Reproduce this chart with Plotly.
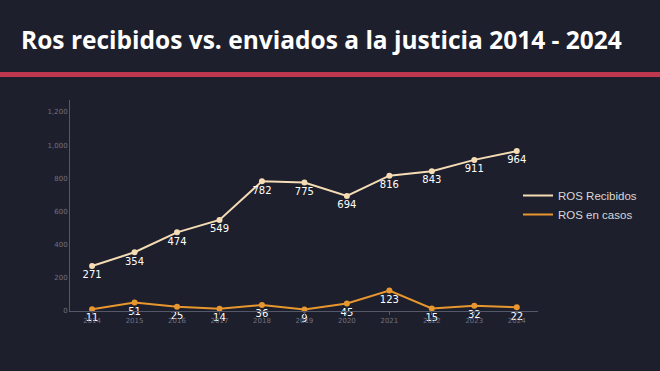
import plotly.graph_objects as go

years = ["2014", "2015", "2016", "2017", "2018", "2019", "2020", "2021", "2022", "2023", "2024"]
ros_recibidos = [271, 354, 474, 549, 782, 775, 694, 816, 843, 911, 964]
ros_casos = [11, 51, 25, 14, 36, 9, 45, 123, 15, 32, 22]
y_ticks = [0, 200, 400, 600, 800, 1000, 1200]
y_tick_labels = ["0", "200", "400", "600", "800", "1,000", "1,200"]

BG = "#1e1f2c"
C1 = "#f5dcb4"
C2 = "#e8962e"

fig = go.Figure()
for name, vals, col in [("ROS Recibidos", ros_recibidos, C1), ("ROS en casos", ros_casos, C2)]:
    fig.add_trace(go.Scatter(
        x=years, y=vals, name=name, mode="lines+markers+text", showlegend=False,
        line=dict(color=col, width=2), marker=dict(size=6, color=col),
        text=[str(v) for v in vals], textposition="bottom center", cliponaxis=False,
        textfont=dict(color="#ffffff", size=10, family="DejaVu Sans"),
    ))
for name, col in [("ROS Recibidos", C1), ("ROS en casos", C2)]:
    fig.add_trace(go.Scatter(x=[None], y=[None], name=name, mode="lines",
                             line=dict(color=col, width=2), showlegend=True))

fig.update_layout(
    width=660, height=371,
    paper_bgcolor=BG, plot_bgcolor=BG,
    margin=dict(l=70, r=122, t=100, b=60, autoexpand=False),
    showlegend=True,
    legend=dict(x=(518 - 70) / 468, y=(311 - 205) / 211,
                xanchor="left", yanchor="middle",
                font=dict(color="#d8d8d8", size=11.5, family="Liberation Sans"),
                bgcolor="rgba(0,0,0,0)"),
    xaxis=dict(type="category", range=[-0.52, 10.5], showgrid=False,
               showline=True, linecolor="#555868", linewidth=1,
               ticks="outside", ticklen=3, tickcolor="#555868",
               tickfont=dict(color="#6f7282", size=7, family="DejaVu Sans"),
               zeroline=False),
    yaxis=dict(range=[0, 1272], showgrid=False, showline=True, linecolor="#555868",
               linewidth=1, tickvals=y_ticks, ticktext=y_tick_labels,
               tickfont=dict(color="#6f7282", size=7, family="DejaVu Sans"),
               zeroline=False, ticks=""),
    shapes=[dict(type="rect", xref="paper", yref="paper",
                 x0=-70/468, x1=(660-70)/468,
                 y0=(311-77)/211, y1=(311-72)/211,
                 fillcolor="#c0384f", line=dict(width=0), layer="above")],
    annotations=[dict(text="<b>Ros recibidos vs. enviados a la justicia 2014 - 2024</b>",
                      xref="paper", yref="paper", x=-51/468, y=(311-40)/211,
                      xanchor="left", yanchor="middle", showarrow=False,
                      font=dict(color="#ffffff", size=24.5, family="Open Sans"))],
)

fig.write_html("out.html", config={"displayModeBar": False},
               post_script="document.body.style.margin='0';document.body.style.background='#1e1f2c';document.body.style.overflow='hidden';")
